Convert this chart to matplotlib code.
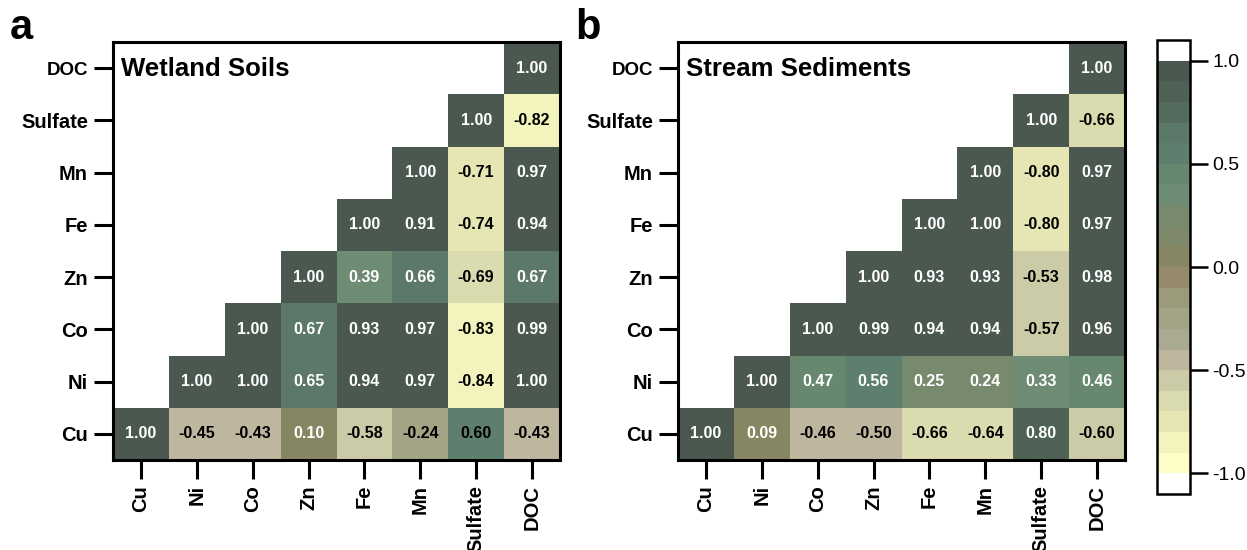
import numpy as np
import matplotlib
matplotlib.use("Agg")
import matplotlib.pyplot as plt
from matplotlib.colors import ListedColormap, BoundaryNorm

plt.rcParams['font.family'] = ['Liberation Sans', 'DejaVu Sans']

variables = ["Cu", "Ni", "Co", "Zn", "Fe", "Mn", "Sulfate", "DOC"]

# Upper-triangle correlations, each row starts at its diagonal entry
wetland_rows = [
    [1.00, -0.45, -0.43, 0.10, -0.58, -0.24, 0.60, -0.43],  # Cu
    [1.00, 1.00, 0.65, 0.94, 0.97, -0.84, 1.00],            # Ni
    [1.00, 0.67, 0.93, 0.97, -0.83, 0.99],                  # Co
    [1.00, 0.39, 0.66, -0.69, 0.67],                        # Zn
    [1.00, 0.91, -0.74, 0.94],                              # Fe
    [1.00, -0.71, 0.97],                                    # Mn
    [1.00, -0.82],                                          # Sulfate
    [1.00],                                                 # DOC
]

stream_rows = [
    [1.00, 0.09, -0.46, -0.50, -0.66, -0.64, 0.80, -0.60],  # Cu
    [1.00, 0.47, 0.56, 0.25, 0.24, 0.33, 0.46],             # Ni
    [1.00, 0.99, 0.94, 0.94, -0.57, 0.96],                  # Co
    [1.00, 0.93, 0.93, -0.53, 0.98],                        # Zn
    [1.00, 1.00, -0.80, 0.97],                              # Fe
    [1.00, -0.80, 0.97],                                    # Mn
    [1.00, -0.66],                                          # Sulfate
    [1.00],                                                 # DOC
]

# Cells whose value label is printed in black despite a positive value
wetland_dark_labels = [("Cu", "Sulfate")]
stream_dark_labels = []

panel_titles = ["Wetland Soils", "Stream Sediments"]
panel_letters = ["a", "b"]
cbar_ticks = [-1.0, -0.5, 0.0, 0.5, 1.0]

# 20-step palette from -1 (pale yellow) to +1 (dark slate green)
palette = [
    "#fdfdc8", "#f3f3bd", "#e6e6b4", "#dadcb0", "#cccba8",
    "#bfb69f", "#aaaa92", "#a3a386", "#9b9b7b", "#958a6c",
    "#878663", "#7e886a", "#788a6e", "#6e8b73", "#67886f",
    "#5f7f6e", "#5b7868", "#556b5d", "#4f6256", "#4a5850",
]
cmap = ListedColormap(palette)
cmap.set_over("white")
cmap.set_under("white")
bounds = np.linspace(-1, 1, 21)
bounds[-1] += 1e-6   # keep r = 1.00 inside the top colour step
norm = BoundaryNorm(bounds, cmap.N)


def to_matrix(rows):
    n = len(variables)
    m = np.full((n, n), np.nan)
    for i, row in enumerate(rows):
        for k, v in enumerate(row):
            m[i, i + k] = v
    return np.ma.masked_invalid(m)


fig = plt.figure(figsize=(12.47, 5.5), dpi=100)
W, H = 1247, 550
ax_w, ax_h = 447 / W, 418 / H
positions = [(113 / W, 90 / H, ax_w, ax_h), (678 / W, 90 / H, ax_w, ax_h)]

mesh = None
for p, (rows, dark, title, letter) in enumerate(zip(
        [wetland_rows, stream_rows],
        [wetland_dark_labels, stream_dark_labels],
        panel_titles, panel_letters)):
    ax = fig.add_axes(positions[p])
    mat = to_matrix(rows)
    n = len(variables)
    mesh = ax.pcolormesh(np.arange(n + 1) - 0.5, np.arange(n + 1) - 0.5,
                         mat, cmap=cmap, norm=norm, edgecolors='none')
    ax.set_xlim(-0.5, n - 0.5)
    ax.set_ylim(-0.5, n - 0.5)
    for i in range(n):
        for j in range(i, n):
            v = mat[i, j]
            black = v < 0 or (variables[i], variables[j]) in dark
            ax.text(j, i, f"{v:.2f}", ha='center', va='center',
                    fontsize=11.5, fontweight='bold',
                    color='black' if black else 'white')
    ax.set_xticks(range(n))
    ax.set_xticklabels(variables, rotation=90, fontsize=14.5, fontweight='bold')
    ax.set_yticks(range(n))
    ax.set_yticklabels(variables, fontsize=14.5, fontweight='bold')
    ax.get_yticklabels()[-1].set_fontsize(13.5)
    ax.tick_params(axis='both', length=14, width=2.2, pad=4, direction='out')
    for s in ax.spines.values():
        s.set_linewidth(2.2)
    ax.text(0.018, 0.965, title, transform=ax.transAxes, ha='left', va='top',
            fontsize=18.5, fontweight='bold')
    fig.text(positions[p][0] - 103 / W, 1 - 8 / H, letter, ha='left', va='top',
             fontsize=30, fontweight='bold')

cax = fig.add_axes((1157 / W, 56 / H, 33 / W, 454 / H))
cb = fig.colorbar(mesh, cax=cax, extend='both', extendrect=True,
                  extendfrac=0.05, ticks=cbar_ticks, spacing='proportional')
cb.ax.minorticks_off()
cb.ax.set_yticks(cbar_ticks)
cb.ax.set_yticklabels([f"{t:.1f}" for t in cbar_ticks], fontsize=14)
cb.ax.tick_params(length=13, width=1.8, pad=3)
cb.outline.set_linewidth(1.8)

fig.savefig("out.png", dpi=100)
